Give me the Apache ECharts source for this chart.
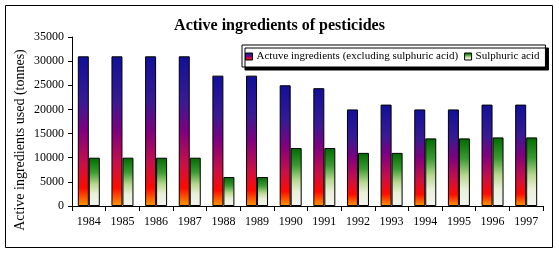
<!DOCTYPE html>
<html><head><meta charset="utf-8">
<script src="https://cdn.jsdelivr.net/npm/echarts@6/dist/echarts.min.js"></script>
<style>html,body{margin:0;padding:0;background:#fff}#c{width:559px;height:254px}</style>
</head><body><div id="c"></div>
<script>
const years = ['1984','1985','1986','1987','1988','1989','1990','1991','1992','1993','1994','1995','1996','1997'];
const activeIngredients = [31000,31000,31000,31000,27000,27000,25000,24400,20000,21000,20000,20000,21000,21000];
const sulphuricAcid = [10000,10000,10000,10000,6000,6000,12000,12000,11000,11000,14000,14000,14200,14200];
const seriesNames = ['Actuve ingredients (excluding sulphuric acid)','Sulphuric acid'];
const titleText = 'Active ingredients of pesticides';
const yAxisName = 'Active ingredients used (tonnes)';

const font = '"Liberation Serif", "Times New Roman", serif';
const chart = echarts.init(document.getElementById('c'), null, {renderer:'canvas'});
const activeGrad = new echarts.graphic.LinearGradient(0,0,0,1,[
  {offset:0,color:'#10109a'},{offset:0.3,color:'#381a94'},{offset:0.5,color:'#800080'},
  {offset:0.72,color:'#c81048'},{offset:0.88,color:'#ff0a00'},{offset:1,color:'#ff9a00'}]);
const sulphGrad = new echarts.graphic.LinearGradient(0,0,0,1,[
  {offset:0,color:'#006a00'},{offset:0.3,color:'#3a9a30'},{offset:0.55,color:'#b8d890'},
  {offset:0.75,color:'#e8f0d8'},{offset:1,color:'#f4f4f0'}]);
chart.setOption({
  animation:false,
  backgroundColor:'#fff',
  textStyle:{fontFamily:font,color:'#000'},
  title:{text:titleText,left:'center',top:13,textStyle:{fontFamily:font,fontWeight:'bold',fontSize:16,color:'#000'}},
  graphic:[
    {type:'rect',shape:{x:5.5,y:5.5,width:547,height:242},style:{fill:'none',stroke:'#000',lineWidth:1},silent:true},
    {type:'text',x:20,y:140,rotation:Math.PI/2,style:{text:yAxisName,font:'14px '+font,fill:'#000',textAlign:'center',textVerticalAlign:'middle'},silent:true}
  ],
  legend:{
    left:242,top:45,width:320,orient:'horizontal',
    backgroundColor:'#fff',borderColor:'#000',borderWidth:1,
    shadowColor:'#000',shadowBlur:0,shadowOffsetX:3,shadowOffsetY:3,
    padding:[6,6,5,3],itemGap:6,itemWidth:7,itemHeight:7,icon:'rect',
    itemStyle:{borderColor:'#000',borderWidth:1},
    textStyle:{fontFamily:font,fontSize:11,color:'#000',padding:[0,0,0,-1]},
    data:seriesNames
  },
  grid:{left:72,right:16,top:37,bottom:48},
  xAxis:{
    type:'category',data:years,
    axisLine:{lineStyle:{color:'#000',width:1}},
    axisTick:{show:true,length:5,interval:0,lineStyle:{color:'#000'}},
    axisLabel:{fontFamily:font,fontSize:12,color:'#000',margin:10,interval:0}
  },
  yAxis:{
    type:'value',min:0,max:35000,interval:5000,
    axisLine:{show:true,lineStyle:{color:'#000',width:1}},
    axisTick:{show:true,length:4,lineStyle:{color:'#000'}},
    splitLine:{show:false},
    axisLabel:{fontFamily:font,fontSize:12,color:'#000',margin:8,formatter:v=>String(v)}
  },
  series:[
    {name:seriesNames[0],type:'bar',data:activeIngredients,barWidth:11,barGap:'0%',
     itemStyle:{color:activeGrad,borderColor:'#000',borderWidth:1}},
    {name:seriesNames[1],type:'bar',data:sulphuricAcid,barWidth:11,barGap:'0%',
     itemStyle:{color:sulphGrad,borderColor:'#000',borderWidth:1}}
  ]
});
</script></body></html>
